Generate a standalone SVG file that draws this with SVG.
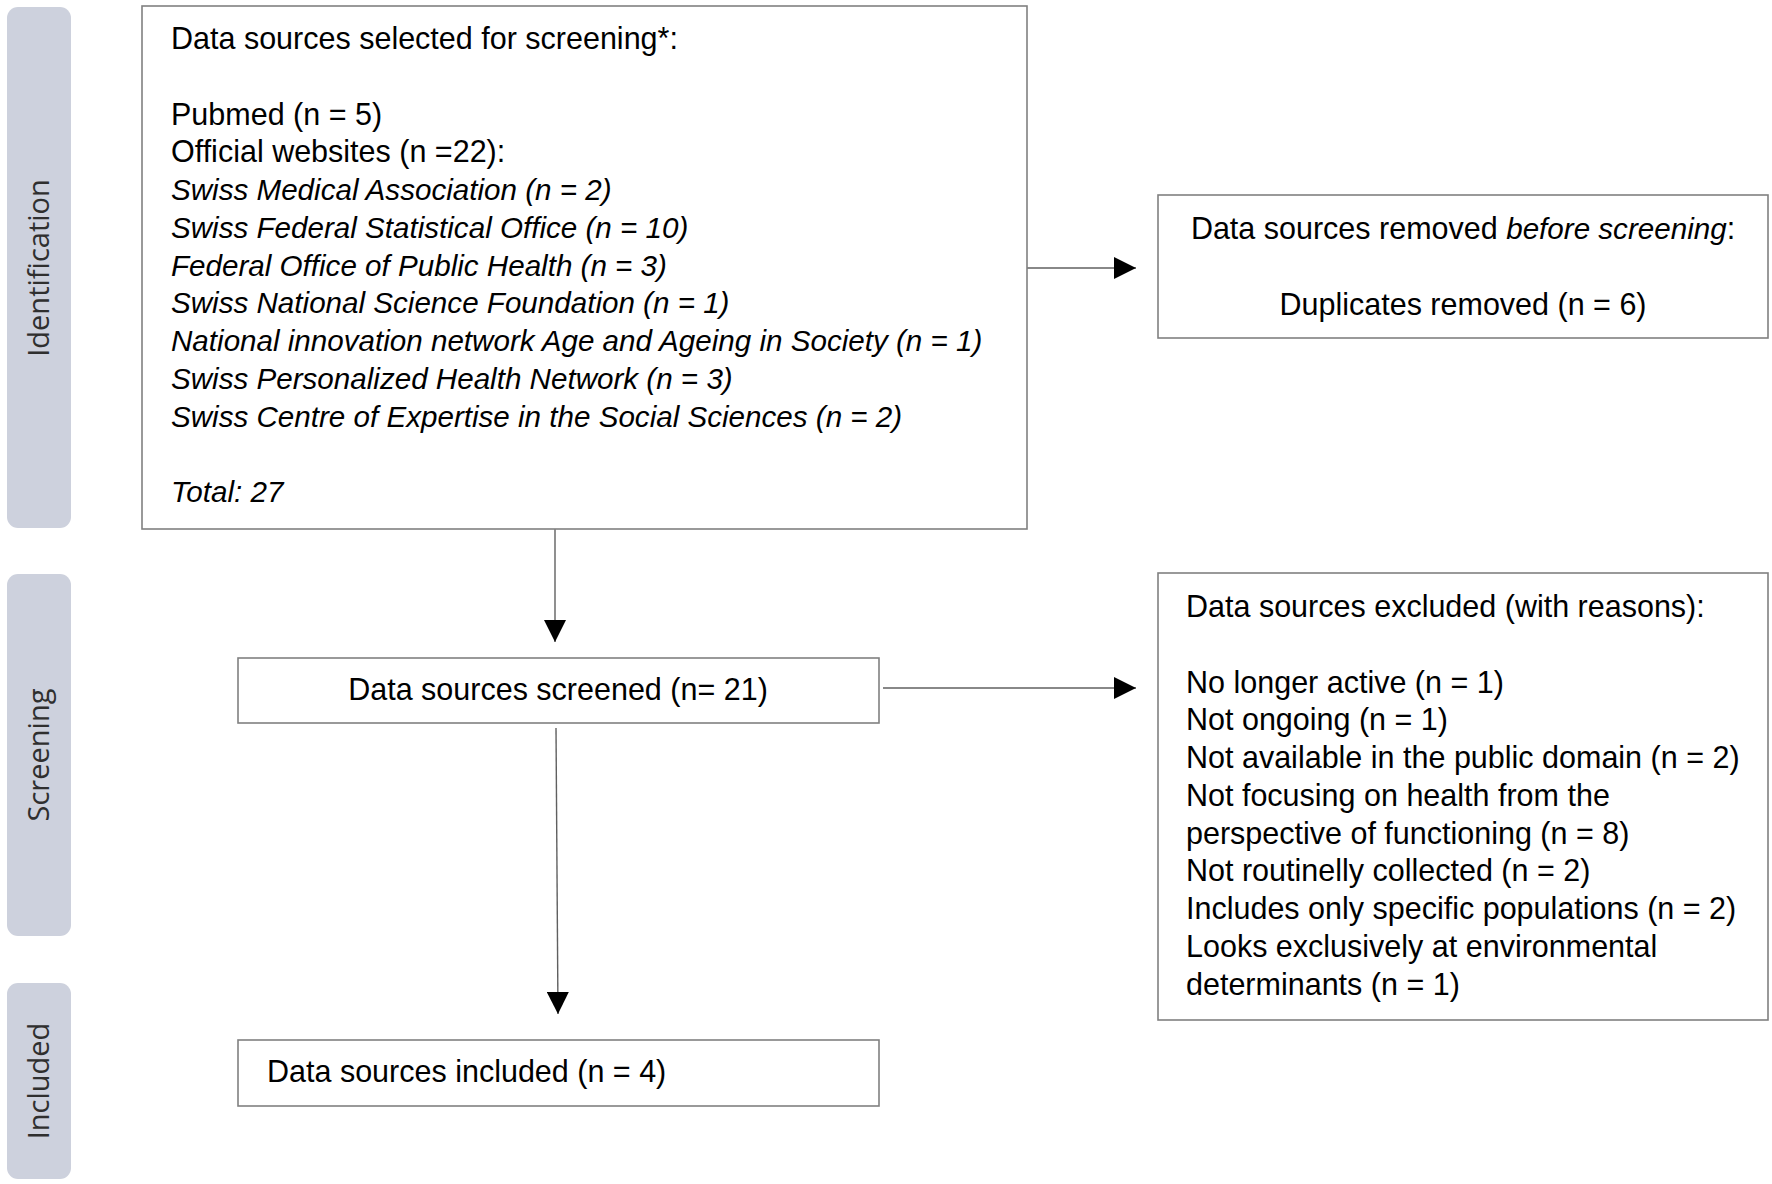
<svg xmlns="http://www.w3.org/2000/svg" width="1772" height="1184" viewBox="0 0 1772 1184">
<style>
.pill{fill:#cdd1dd;}
.box{fill:#ffffff;stroke:#808080;stroke-width:1.6;}
.t{font-family:"Liberation Sans",Arial,sans-serif;font-size:30.5px;fill:#000;}
.i{font-style:italic;font-size:29.6px;}
.lab{font-family:"Open Sans","Liberation Sans",sans-serif;font-size:29px;fill:#2f2f2f;text-anchor:middle;}
.ln{stroke:#606060;stroke-width:1.4;fill:none;}
</style>
<defs>
<marker id="ah" viewBox="0 0 10 10" refX="10" refY="5" markerWidth="22" markerHeight="22" markerUnits="userSpaceOnUse" orient="auto">
<path d="M0,0 L10,5 L0,10 Z" fill="#000"/>
</marker>
</defs>
<rect width="1772" height="1184" fill="#fff"/>
<g id="phase-identification">
<rect class="pill" x="7" y="7" width="64" height="521" rx="11"/>
<text class="lab" transform="translate(49,268) rotate(-90)">Identification</text>
</g>
<g id="phase-screening">
<rect class="pill" x="7" y="574" width="64" height="362" rx="11"/>
<text class="lab" transform="translate(49,755) rotate(-90)">Screening</text>
</g>
<g id="phase-included">
<rect class="pill" x="7" y="983" width="64" height="196" rx="11"/>
<text class="lab" transform="translate(49,1081) rotate(-90)">Included</text>
</g>
<g id="connectors">
<line class="ln" x1="1027" y1="268" x2="1136" y2="268" marker-end="url(#ah)"/>
<line class="ln" x1="555" y1="529" x2="555" y2="642" marker-end="url(#ah)"/>
<line class="ln" x1="883" y1="688" x2="1136" y2="688" marker-end="url(#ah)"/>
<line class="ln" x1="556" y1="728" x2="558" y2="1014" marker-end="url(#ah)"/>
</g>
<g id="node-selected">
<rect class="box" x="142" y="6" width="885" height="523"/>
<text class="t" x="171" y="49">Data sources selected for screening*:</text>
<text class="t" x="171" y="124.5">Pubmed (n = 5)</text>
<text class="t" x="171" y="162.3">Official websites (n =22):</text>
<text class="t i" x="171" y="200">Swiss Medical Association (n = 2)</text>
<text class="t i" x="171" y="237.8">Swiss Federal Statistical Office (n = 10)</text>
<text class="t i" x="171" y="275.5">Federal Office of Public Health (n = 3)</text>
<text class="t i" x="171" y="313.3">Swiss National Science Foundation (n = 1)</text>
<text class="t i" x="171" y="351">National innovation network Age and Ageing in Society (n = 1)</text>
<text class="t i" x="171" y="388.8">Swiss Personalized Health Network (n = 3)</text>
<text class="t i" x="171" y="426.5">Swiss Centre of Expertise in the Social Sciences (n = 2)</text>
<text class="t i" x="171" y="502">Total: 27</text>
</g>
<g id="node-removed">
<rect class="box" x="1158" y="195" width="610" height="143"/>
<text class="t" x="1463" y="239" text-anchor="middle">Data sources removed <tspan class="i">before screening</tspan>:</text>
<text class="t" x="1463" y="315" text-anchor="middle">Duplicates removed (n = 6)</text>
</g>
<g id="node-screened">
<rect class="box" x="238" y="658" width="641" height="65"/>
<text class="t" x="558" y="700" text-anchor="middle">Data sources screened (n= 21)</text>
</g>
<g id="node-excluded">
<rect class="box" x="1158" y="573" width="610" height="447"/>
<text class="t" x="1186" y="617">Data sources excluded (with reasons):</text>
<text class="t" x="1186" y="692.5">No longer active (n = 1)</text>
<text class="t" x="1186" y="730.3">Not ongoing (n = 1)</text>
<text class="t" x="1186" y="768">Not available in the public domain (n = 2)</text>
<text class="t" x="1186" y="805.8">Not focusing on health from the</text>
<text class="t" x="1186" y="843.5">perspective of functioning (n = 8)</text>
<text class="t" x="1186" y="881.3">Not routinelly collected (n = 2)</text>
<text class="t" x="1186" y="919">Includes only specific populations (n = 2)</text>
<text class="t" x="1186" y="956.8">Looks exclusively at environmental</text>
<text class="t" x="1186" y="994.5">determinants (n = 1)</text>
</g>
<g id="node-included">
<rect class="box" x="238" y="1040" width="641" height="66"/>
<text class="t" x="267" y="1082">Data sources included (n = 4)</text>
</g>
</svg>
